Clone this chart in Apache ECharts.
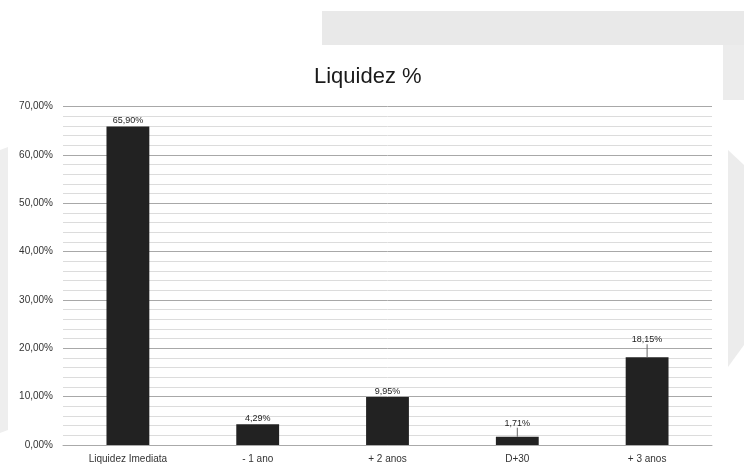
<!DOCTYPE html>
<html>
<head>
<meta charset="utf-8">
<script src="https://cdn.jsdelivr.net/npm/echarts@6/dist/echarts.min.js"></script>
<style>
html,body{margin:0;padding:0;background:#fff;}
#c{width:744px;height:471px;}
</style>
</head>
<body>
<div id="c"></div>
<script>
const categories = ['Liquidez Imediata', '- 1 ano', '+ 2 anos', 'D+30', '+ 3 anos'];
const values = [65.90, 4.29, 9.95, 1.71, 18.15];
const yTicks = [0, 10, 20, 30, 40, 50, 60, 70];
const leaderIdx = [3, 4];
const leaderLift = { 3: 8, 4: 12 };

const fmt = v => v.toFixed(2).replace('.', ',') + '%';
const chart = echarts.init(document.getElementById('c'));
const font = "sans-serif";

chart.setOption({
  backgroundColor: '#ffffff',
  animation: false,
  graphic: [
    { type: 'rect', shape: { x: 322, y: 11, width: 422, height: 34 }, style: { fill: '#e9e9e9' }, silent: true, z: -10 },
    { type: 'rect', shape: { x: 723, y: 45, width: 21, height: 55 }, style: { fill: '#ececec' }, silent: true, z: -10 },
    { type: 'polygon', shape: { points: [[728, 150], [744, 165], [744, 345], [728, 367]] }, style: { fill: '#ececec' }, silent: true, z: -10 },
    { type: 'polygon', shape: { points: [[0, 150], [8, 147], [8, 430], [0, 433]] }, style: { fill: '#eeeeee' }, silent: true, z: -10 }
  ],
  title: {
    text: 'Liquidez %',
    left: 309,
    top: 61,
    textStyle: { fontFamily: font, fontSize: 22, fontWeight: 'normal', color: '#1a1a1a' }
  },
  grid: { left: 63, right: 32, top: 106.7, bottom: 26 },
  xAxis: {
    type: 'category',
    data: categories,
    axisLine: { lineStyle: { color: '#aaa' } },
    axisTick: { show: false },
    axisLabel: { fontFamily: font, fontSize: 10, color: '#333', margin: 9 }
  },
  yAxis: {
    type: 'value',
    min: yTicks[0],
    max: yTicks[yTicks.length - 1],
    interval: 10,
    axisLine: { show: false },
    axisTick: { show: false },
    axisLabel: { formatter: fmt, fontFamily: font, fontSize: 10, color: '#333', margin: 10 },
    splitLine: { lineStyle: { color: '#a8a8a8', width: 1 } },
    minorTick: { show: false, splitNumber: 5 },
    minorSplitLine: { show: true, lineStyle: { color: '#dcdcdc', width: 1 } }
  },
  series: [{
    type: 'bar',
    barWidth: '33%',
    data: values,
    itemStyle: { color: '#222222' },
    label: {
      show: true,
      position: 'top',
      distance: 1,
      formatter: p => fmt(p.value),
      fontFamily: font,
      fontSize: 9,
      color: '#222'
    },
    labelLayout: p => leaderIdx.includes(p.dataIndex) ? { dy: -leaderLift[p.dataIndex] } : {}
  }, {
    type: 'custom',
    silent: true,
    z: 5,
    data: values.map((v, i) => [i, v]),
    renderItem: (params, api) => {
      const i = api.value(0);
      if (!leaderIdx.includes(i)) return null;
      const p = api.coord([i, api.value(1)]);
      return {
        type: 'line',
        shape: { x1: p[0], y1: p[1], x2: p[0], y2: p[1] - leaderLift[i] - 1 },
        style: { stroke: '#666', lineWidth: 1 }
      };
    }
  }]
});
</script>
</body>
</html>
